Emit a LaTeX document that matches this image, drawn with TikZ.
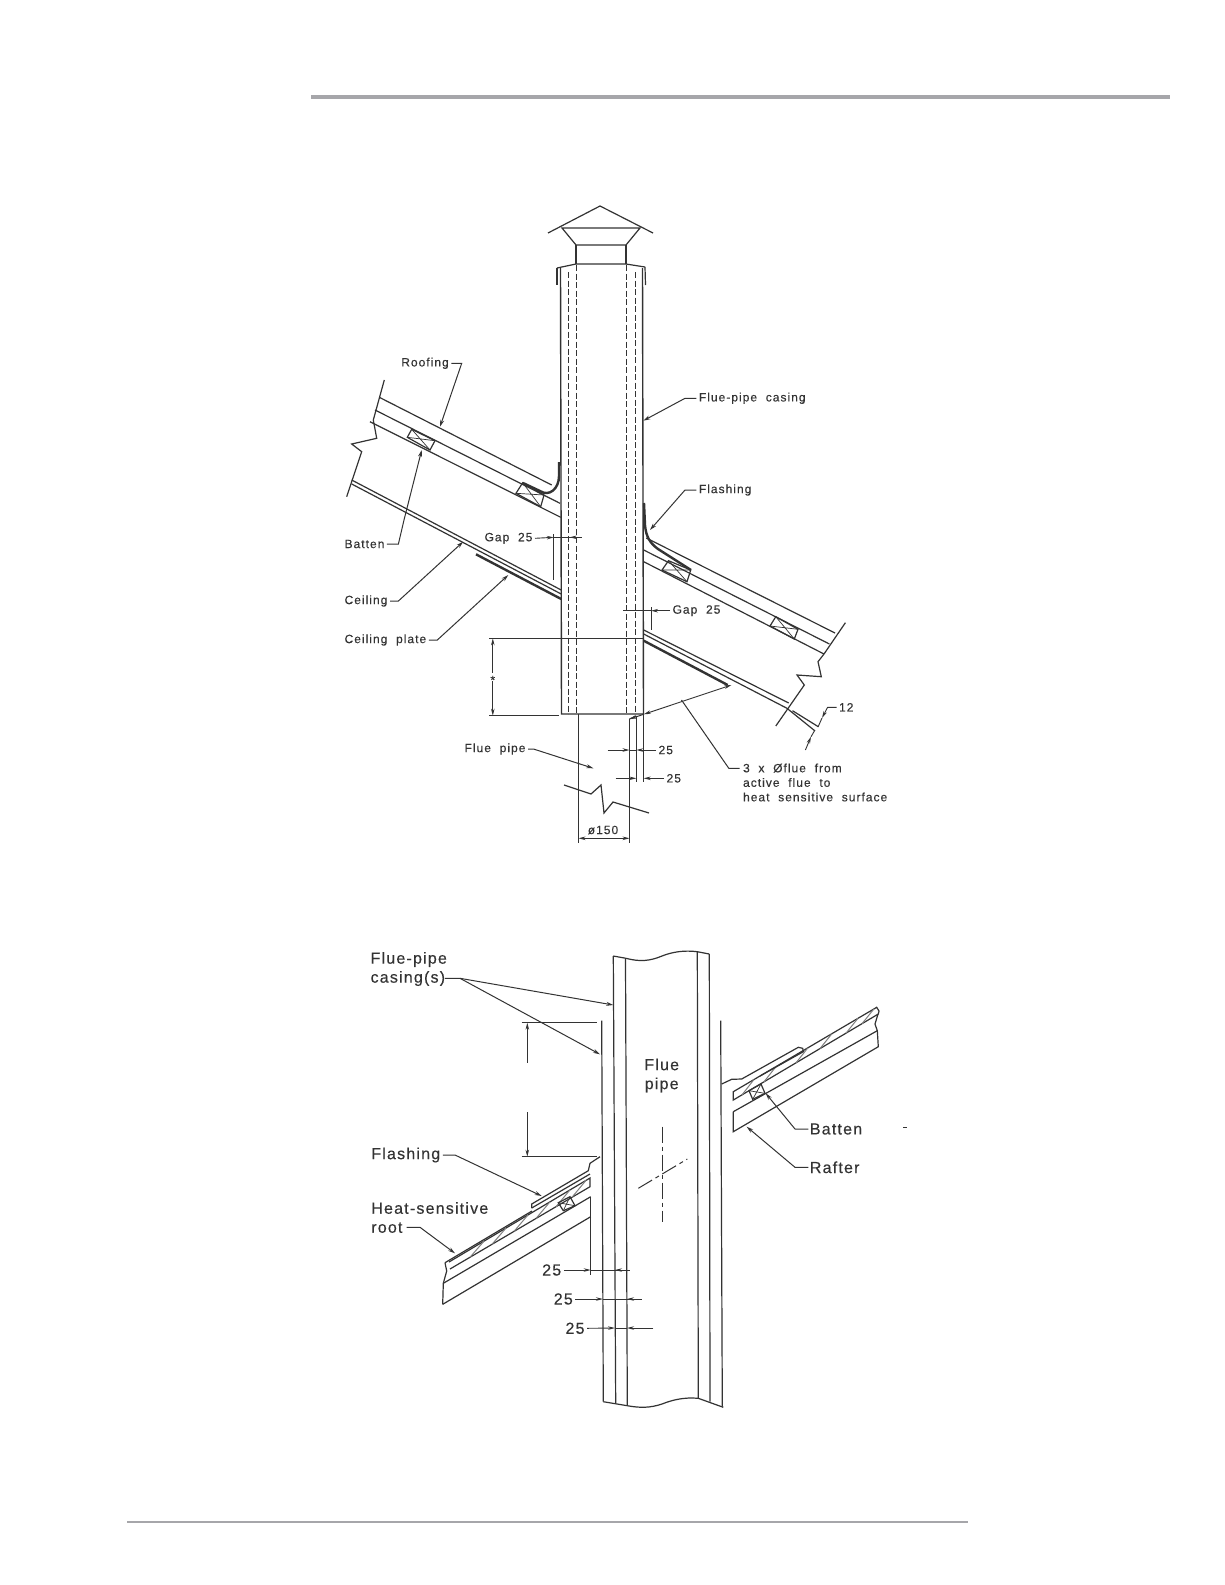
\documentclass[tikz,border=0pt]{standalone}
\usepackage{fontspec}
\setmainfont{Liberation Sans}
\newfontfamily\smallfont[LetterSpace=8.5,FakeBold=0.3]{Liberation Sans}
\newfontfamily\bigfont[LetterSpace=7.5,FakeBold=0.3]{Liberation Sans}
\usetikzlibrary{arrows.meta, positioning}
\definecolor{inkgray}{HTML}{333333}
\definecolor{bargray}{HTML}{A6A6AA}

\begin{document}
\begin{tikzpicture}[x=1pt, y=-1pt, >=Stealth, line width=1.2pt, color=inkgray]
  % Define styles
  \tikzstyle{small} = [anchor=west, inner sep=0pt, align=left, text=inkgray, font=\smallfont\fontsize{12}{14.5}\selectfont]
  \tikzstyle{big} = [anchor=west, inner sep=0pt, align=left, text=inkgray, font=\bigfont\fontsize{16}{19}\selectfont]
  \tikzstyle{lead} = [draw, line width=1pt, ->, >={Stealth[length=7pt,width=4pt]}]
  \tikzstyle{dim} = [draw, line width=0.9pt, >={Stealth[length=7pt,width=3.5pt]}]
  \tikzstyle{hidden} = [draw, line width=1.1pt, dash pattern=on 6pt off 2.5pt]
  \tikzstyle{heavy} = [draw, line width=2.4pt]
  \tikzstyle{centreline} = [draw, line width=1pt, dash pattern=on 16pt off 4pt on 4pt off 4pt]
  \tikzstyle{hatch} = [draw, line width=1pt, gray]
  \tikzstyle{bar} = [fill=bargray, draw=none]

  \useasboundingbox (0,0) rectangle (1225,1585);
  \fill[white] (0,0) rectangle (1225,1585);

  % Page rules
  \path[bar] (311,95) rectangle (1170,99);
  \path[bar] (127,1521) rectangle (968,1523);

  % Upper drawing: cowl
  \draw (548,233) -- (600,206) -- (653,233);
  \draw (562,228) -- (640,228) -- (626,245) -- (576,245) -- cycle;
  \draw (576,245) -- (576,264);
  \draw (626,245) -- (626,264);
  \draw (557,268) -- (576,264) -- (626,264) -- (645,267);
  \draw (557,268) -- (557,285);
  \draw (645,267) -- (645.5,285);

  % Upper drawing: casing and flue
  \draw[line width=1.4pt] (560.5,268) -- (561.5,714) -- (643.5,714) -- (642.5,268);
  \path[hidden] (568.5,272) -- (568.5,714);
  \path[hidden] (576.5,265) -- (576.5,714);
  \path[hidden] (626.5,265) -- (626.5,714);
  \path[hidden] (635.5,272) -- (635.5,714);
  \draw (578.5,714) -- (578.5,843);
  \draw (629.5,719) -- (629.5,843);
  \draw (629.5,719) -- (636.3,716);
  \draw (636.3,716) -- (636.3,782);
  \draw (643.7,714) -- (643.7,782);
  \draw (564,785) -- (591,794) -- (601,785) -- (604,813) -- (613,802) -- (649,813);

  % Upper drawing: roof on the left
  \draw (379.3,397.3) -- (551.7,485);
  \draw (375,410) -- (560,503.3);
  \draw (370,421.7) -- (560.7,517.3);
  \draw (384.3,380) -- (373.3,420) -- (376.7,438.3) -- (351.7,444) -- (361.7,451.7) -- (346.7,496.7);
  \draw (351.7,480) -- (561.2,590);
  \draw (351.7,484) -- (561.2,594);
  \path[heavy] (476,554.3) -- (561.2,599);
  \draw (411.7,429.3) -- (435,440.7) -- (430,450) -- (407.3,437.3) -- cycle;
  \draw[line width=0.7pt] (411.7,429.3) -- (430,450) (435,440.7) -- (407.3,437.3);
  \draw (522.7,482.7) -- (544,495) -- (540.7,506.7) -- (516,493.3) -- cycle;
  \draw[line width=0.7pt] (522.7,482.7) -- (540.7,506.7) (544,495) -- (516,493.3);
  \path[heavy] (559,462) -- (559,476) .. controls (559,489) and (549,497) .. (540,491) -- (523,483);

  % Upper drawing: roof on the right
  \draw (646.3,538) -- (835,633);
  \draw (643.7,550) -- (829.4,644);
  \draw (643.7,561.7) -- (824,654);
  \draw (845.4,622.7) -- (824,654) -- (818,661.7) -- (821.3,676.7) -- (797,675) -- (804.3,685) -- (775.8,726);
  \draw (643.7,630) -- (788.7,703);
  \draw (643.7,634) -- (787,708.3);
  \draw (792.5,710.7) -- (818.3,726.7);
  \draw (787,708.3) -- (814.7,730.7);
  \path[heavy] (643.7,640.7) -- (727.7,685);
  \draw (668.5,560.7) -- (690.7,570) -- (687,581.7) -- (662,570) -- cycle;
  \draw[line width=0.7pt] (668.5,560.7) -- (687,581.7) (690.7,570) -- (662,570);
  \draw (775.8,616.7) -- (798,629.3) -- (794.3,639) -- (770,626) -- cycle;
  \draw[line width=0.7pt] (775.8,616.7) -- (794.3,639) (798,629.3) -- (770,626);
  \path[heavy] (644,503) -- (645,525) .. controls (646,537) and (650,543) .. (658,549) -- (691,570);

  % Upper drawing: labels
  \node[small] (roofing) at (400.7,363.3) {Roofing};
  \node[small] (flueCasing) at (698.3,398.3) {Flue-pipe\ \ casing};
  \node[small] (flashing) at (698.3,490) {Flashing};
  \node[small] (batten) at (344,544) {Batten};
  \node[small] (gapLeft) at (484,538.3) {Gap\ \ 25};
  \node[small] (ceiling) at (344,601) {Ceiling};
  \node[small] (ceilingPlate) at (344,640) {Ceiling\ \ plate};
  \node[small] (gapRight) at (672,610.7) {Gap\ \ 25};
  \node[small] (fluePipe) at (464,749) {Flue\ \ pipe};
  \node[small] (dimA) at (658,750) {25};
  \node[small] (dimB) at (666,778.3) {25};
  \node[small] (dimTwelve) at (838.5,707.3) {12};
  \node[small] (note) at (742.5,782.5) {3\ \ x\ \ Øflue\ \ from\\active\ \ flue\ \ to\\heat\ \ sensitive\ \ surface};
  \node[small, anchor=center] (dia) at (603,830) {ø150};
  \node[small, anchor=center] (star) at (492.8,680) {*};

  % Upper drawing: free ends of the leaders
  \coordinate (roofingEnd) at (440,426.7);
  \coordinate (casingEnd) at (643.3,420.7);
  \coordinate (flashingEnd) at (650,530);
  \coordinate (battenEnd) at (421.7,450);
  \coordinate (ceilingEnd) at (463.2,541.7);
  \coordinate (plateEnd) at (508.3,575);
  \coordinate (pipeEnd) at (593.4,768.3);
  \coordinate (noteEnd) at (681.5,700);

  % Upper drawing: leaders
  \path[lead] (roofing.east) ++(2,0) -- (461.7,363.3) -- (roofingEnd);
  \path[lead] (flueCasing.west) ++(-2,0) -- (685,398.3) -- (casingEnd);
  \path[lead] (flashing.west) ++(-2,0) -- (685,490) -- (flashingEnd);
  \path[lead] (batten.east) ++(2,0) -- (398.4,544) -- (404,520) -- (battenEnd);
  \path[lead] (ceiling.east) ++(2,0) -- (398.4,601) -- (ceilingEnd);
  \path[lead] (ceilingPlate.east) ++(2,0) -- (437.3,640) -- (plateEnd);
  \path[lead] (fluePipe.east) ++(2,0) -- (533.5,749) -- (pipeEnd);
  \draw[line width=1pt] (739.5,768.3) -- (728.8,768.3) -- (noteEnd);

  % Upper drawing: dimensions
  \path[dim, ->] (gapLeft.east) ++(2,0) -- (553.8,537.3);
  \path[dim] (553.8,537.3) -- (581.6,537.3);
  \path[dim, <-] (569.7,537.3) -- (577,537.3);
  \path[dim] (553.8,534) -- (553.8,580);
  \path[dim, ->] (gapRight.west) ++(-2,0) -- (651,610.7);
  \path[dim] (651,610.7) -- (623.4,610.7);
  \path[dim] (651,607) -- (651,630);
  \path[dim] (489,638.3) -- (643.7,638.3);
  \path[dim] (489,715.7) -- (559.4,715.7);
  \path[dim, <-] (492.8,638.3) -- (492.8,673);
  \path[dim, ->] (492.8,681) -- (492.8,715.7);
  \path[dim, <->] (578.5,838.3) -- (629.5,838.3);
  \path[dim, <->] (643.7,714.3) -- (731.4,685);
  \path[dim, ->] (643.7,714.3) -- (629.5,719);
  \path[dim, ->] (607.5,750) -- (629.5,750);
  \path[dim] (629.5,750) -- (636,750);
  \path[dim, ->] (dimA.west) ++(-2,0) -- (636.3,750);
  \path[dim, ->] (615.6,778.3) -- (636.3,778.3);
  \path[dim, ->] (dimB.west) ++(-2,0) -- (643.7,778.3);
  \path[dim, ->] (dimTwelve.west) ++(-2,0) -- (827.6,707.3) -- (822,718);
  \path[dim, ->] (805.4,750) -- (811,736.7);
  \path[dim] (822,718) -- (818,727);
  \path[dim] (811,736.7) -- (815,730);

  % Lower drawing: pipe and casings
  \draw (601.7,1020.7) -- (603.3,1401.7);
  \draw (613.3,956) -- (615.7,1403.3);
  \draw (625.5,958.3) -- (627.3,1405.7);
  \draw (697.3,951.7) -- (698.3,1398.3);
  \draw (709.3,954) -- (710,1401.7);
  \draw (720.7,1020.7) -- (722.3,1406.7);
  \draw (613.3,956) -- (626,958.3) .. controls (640,962) and (650,961) .. (662,956) .. controls (672,952) and (684,950) .. (697.3,951.7) -- (709.3,954);
  \draw (603.3,1401.7) -- (627.3,1405.7) .. controls (640,1408) and (650,1408) .. (662,1404) .. controls (672,1400) and (684,1397) .. (698.3,1398.3) -- (723.3,1407.3);
  \path[centreline] (662,1126.7) -- (662,1221.7);
  \path[centreline] (638.3,1188.3) -- (687.3,1159);

  % Lower drawing: roof on the left
  \draw (442.7,1304.3) -- (590.7,1216.7);
  \draw (443.3,1283.3) -- (590.7,1196.7);
  \draw (445,1262.7) -- (446.7,1271) -- (443.3,1283.3) -- (442.7,1304.3);
  \draw (445,1262.7) -- (532,1211);
  \draw (531.7,1208) -- (531.7,1204) -- (588.3,1170.7) -- (590,1163.3) -- (600,1156.7);
  \draw (531.7,1208) -- (590,1174);
  \draw (450,1269) -- (590,1186.7) -- (590,1178) -- (449,1262);
  \foreach \hx in {470, 492, 514, 536, 556, 572}
    \path[hatch] ({\hx},{1269-.588*(\hx-450)}) -- ({\hx+14},{1262-.596*(\hx+14-449)});
  \draw (558.3,1202.7) -- (570,1196.7) -- (575,1205.7) -- (563.3,1210.7) -- cycle;
  \draw[line width=0.7pt] (558.3,1202.7) -- (575,1205.7) (570,1196.7) -- (563.3,1210.7);

  % Lower drawing: roof on the right
  \draw (733.3,1111.7) -- (877.3,1030.7) -- (875,1024) -- (878,1014);
  \draw (733.3,1111.7) -- (733.3,1131.7) -- (878.3,1046.7) -- (877.3,1030.7);
  \draw (733.3,1100) -- (878.3,1014) -- (879,1011) -- (876.7,1007.3) -- (733.3,1091.7) -- cycle;
  \foreach \hx in {742, 764, 796, 820, 846, 862}
    \path[hatch] ({\hx},{1100-.593*(\hx-733.3)}) -- ({\hx+12},{1091.7-.589*(\hx+12-733.3)});
  \draw (721.7,1084) -- (731.7,1079.3) -- (741.7,1079) -- (798.3,1047.3) -- (802.7,1048.3) -- (803.3,1051.7) -- (760,1076);
  \draw (749,1090.7) -- (761,1084) -- (765,1093.3) -- (752.7,1099.3) -- cycle;
  \draw[line width=0.7pt] (749,1090.7) -- (765,1093.3) (761,1084) -- (752.7,1099.3);

  % Lower drawing: labels
  \node[big] (casings) at (370,969) {Flue-pipe\\casing(s)};
  \node[big] (flashingB) at (370.7,1155) {Flashing};
  \node[big] (heatRoof) at (370.7,1217.5) {Heat-sensitive\\root};
  \node[big, anchor=center, align=center] (flueText) at (661.7,1075.5) {Flue\\pipe};
  \node[big] (battenB) at (809.3,1129) {Batten};
  \node[big] (rafter) at (809.3,1167.3) {Rafter};
  \node[big, anchor=center] (gapOne) at (551.7,1270) {25};
  \node[big, anchor=center] (gapTwo) at (563.3,1299) {25};
  \node[big, anchor=center] (gapThree) at (575,1328.3) {25};

  % Lower drawing: free ends of the leaders
  \coordinate (casingOuter) at (613.3,1005);
  \coordinate (casingInner) at (600,1054.3);
  \coordinate (flashingBEnd) at (541.7,1196);
  \coordinate (roofEnd) at (455,1253.3);
  \coordinate (battenBEnd) at (765.7,1093.3);
  \coordinate (rafterEnd) at (746.7,1126.7);

  % Lower drawing: leaders
  \path[lead] (445,978.3) -- (460,978.3) -- (casingOuter);
  \path[lead] (460,978.3) -- (casingInner);
  \path[lead] (flashingB.east) ++(2,0) -- (455,1155) -- (flashingBEnd);
  \path[lead] (406.7,1227.3) -- (420,1227.3) -- (roofEnd);
  \path[lead] (battenB.west) ++(-1,0) -- (795,1129) -- (battenBEnd);
  \path[lead] (rafter.west) ++(-1,0) -- (795,1167.3) -- (rafterEnd);

  % Lower drawing: dimensions
  \path[dim] (521.7,1022.7) -- (597.3,1022.7);
  \path[dim] (521.7,1156.7) -- (597.3,1156.7);
  \path[dim, <-] (527.3,1022.7) -- (527.3,1063.3);
  \path[dim, ->] (527.3,1112.3) -- (527.3,1156.7);
  \path[dim] (590.7,1196.7) -- (590.7,1275);
  \path[dim, ->] (gapOne.east) ++(2,0) -- (590.7,1270);
  \path[dim] (590.7,1270) -- (630,1270);
  \path[dim, <-] (615,1270) -- (622,1270);
  \path[dim, ->] (gapTwo.east) ++(2,0) -- (603,1299);
  \path[dim] (603,1299) -- (641.7,1299);
  \path[dim, <-] (627,1299) -- (634,1299);
  \path[dim, ->] (gapThree.east) ++(2,0) -- (615,1328);
  \path[dim] (615,1328) -- (627,1328);
  \path[dim, ->] (653.3,1328) -- (627,1328);

  % Stray mark on the scan
  \draw[line width=1pt] (903,1127.3) -- (906.5,1127.3);
\end{tikzpicture}
\end{document}
